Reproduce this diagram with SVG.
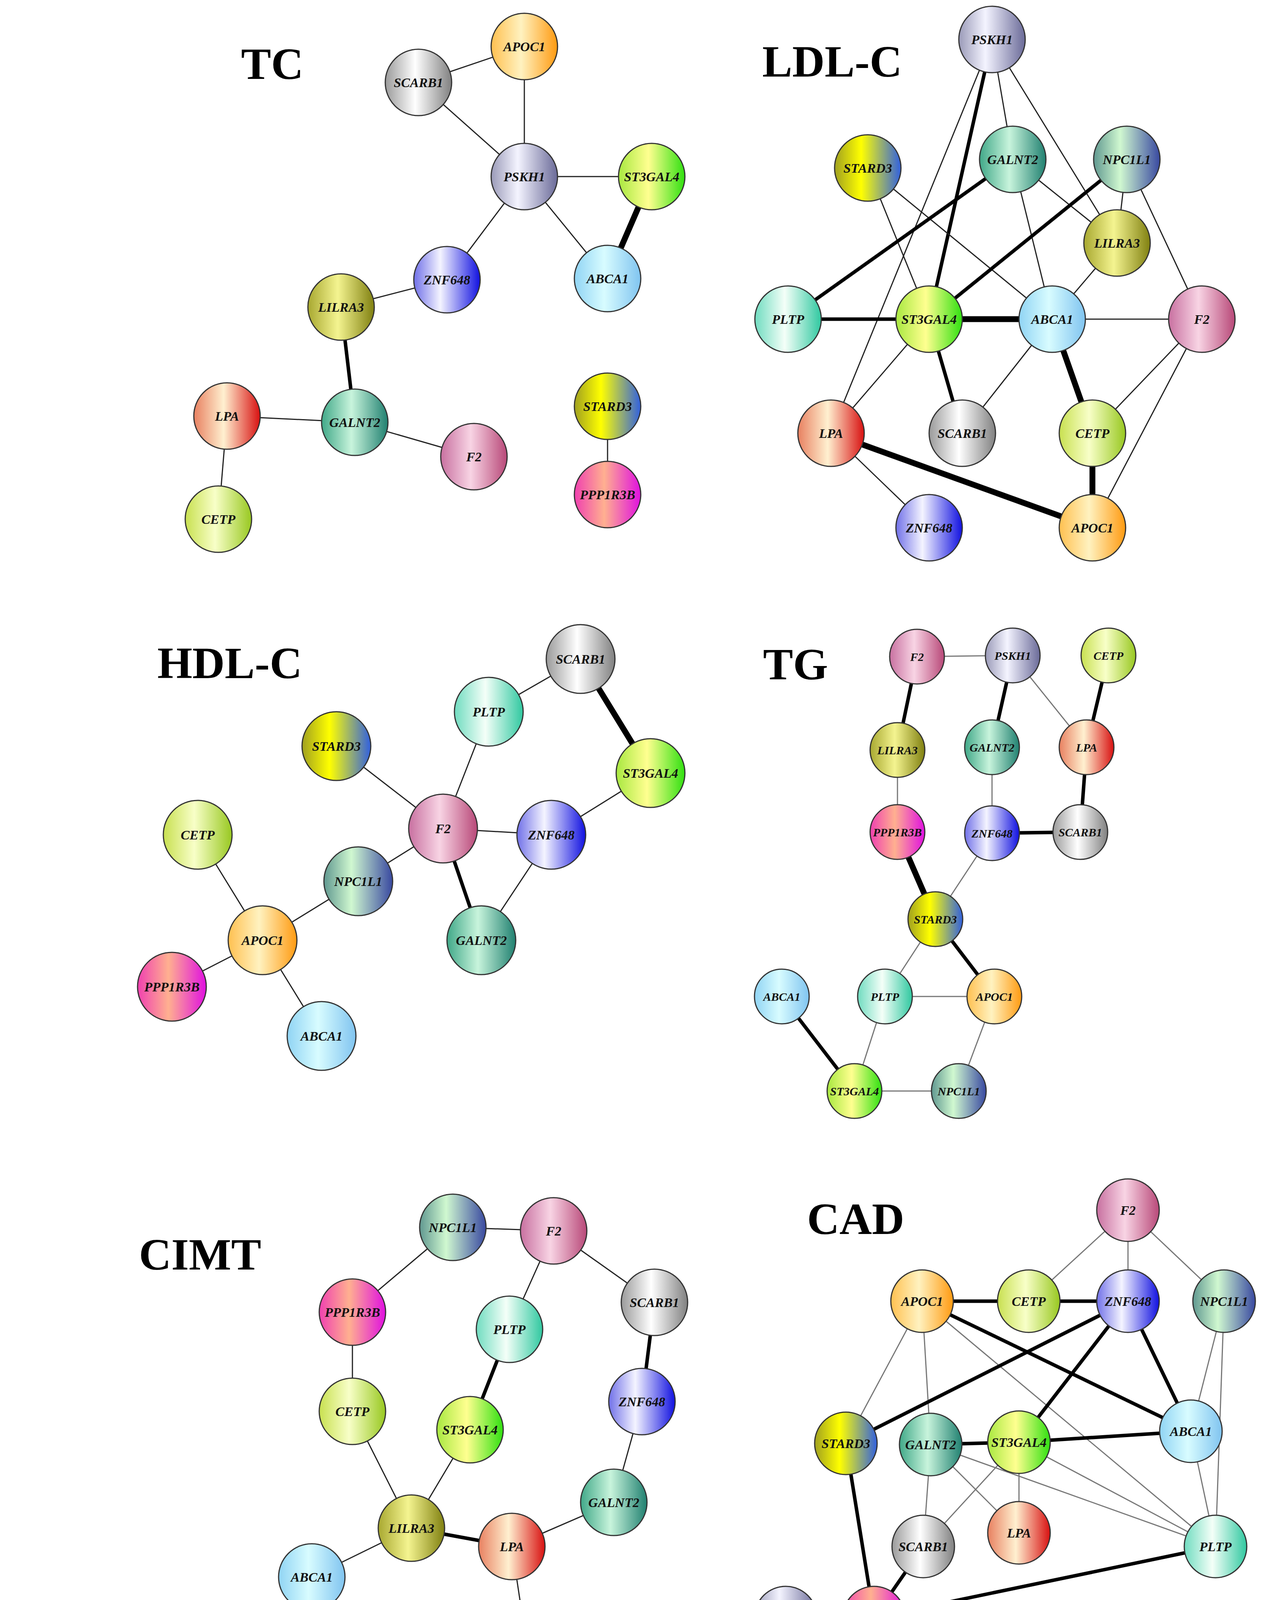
<svg xmlns="http://www.w3.org/2000/svg" width="3230" height="4936" viewBox="0 0 3230 4936">
<style>
.t{stroke:#222;stroke-width:3}
.m{stroke:#000;stroke-width:9}
.k{stroke:#000;stroke-width:15}
.g .t{stroke:#777}
.n circle{stroke:#333;stroke-width:3}
.n text{font-family:"Liberation Serif",serif;font-weight:bold;font-style:italic;font-size:34px;text-anchor:middle;dominant-baseline:central;fill:#111}
.s text{font-size:30px}
.title{font-family:"Liberation Serif",serif;font-weight:bold;font-size:115px;text-anchor:middle;dominant-baseline:central}
.leg{font-family:"Liberation Serif",serif;font-size:80px}
</style>
<defs>
<linearGradient id="APOC1"><stop offset="0" stop-color="#ffc050"/><stop offset="0.45" stop-color="#fff2c0"/><stop offset="1" stop-color="#ff9a10"/></linearGradient>
<linearGradient id="SCARB1"><stop offset="0" stop-color="#9a9a9a"/><stop offset="0.45" stop-color="#ffffff"/><stop offset="1" stop-color="#808080"/></linearGradient>
<linearGradient id="PSKH1"><stop offset="0" stop-color="#9a9ab8"/><stop offset="0.4" stop-color="#f4f4ff"/><stop offset="1" stop-color="#6a6a98"/></linearGradient>
<linearGradient id="ST3GAL4"><stop offset="0" stop-color="#a8e840"/><stop offset="0.45" stop-color="#ffff90"/><stop offset="1" stop-color="#30e010"/></linearGradient>
<linearGradient id="ABCA1"><stop offset="0" stop-color="#90d4f4"/><stop offset="0.45" stop-color="#d8fcff"/><stop offset="1" stop-color="#80c4f0"/></linearGradient>
<linearGradient id="ZNF648"><stop offset="0" stop-color="#7070e8"/><stop offset="0.4" stop-color="#f4f4ff"/><stop offset="1" stop-color="#1010e0"/></linearGradient>
<linearGradient id="LILRA3"><stop offset="0" stop-color="#a8a830"/><stop offset="0.45" stop-color="#f4f490"/><stop offset="1" stop-color="#808010"/></linearGradient>
<linearGradient id="GALNT2"><stop offset="0" stop-color="#40a888"/><stop offset="0.45" stop-color="#c8f4dc"/><stop offset="1" stop-color="#208070"/></linearGradient>
<linearGradient id="LPA"><stop offset="0" stop-color="#e88060"/><stop offset="0.45" stop-color="#fff0d0"/><stop offset="1" stop-color="#d81010"/></linearGradient>
<linearGradient id="F2"><stop offset="0" stop-color="#c870a0"/><stop offset="0.45" stop-color="#f8d4e4"/><stop offset="1" stop-color="#b84878"/></linearGradient>
<linearGradient id="CETP"><stop offset="0" stop-color="#c8e050"/><stop offset="0.45" stop-color="#f8ffc8"/><stop offset="1" stop-color="#98c820"/></linearGradient>
<linearGradient id="STARD3"><stop offset="0" stop-color="#a0a020"/><stop offset="0.4" stop-color="#ffff00"/><stop offset="1" stop-color="#3060e0"/></linearGradient>
<linearGradient id="PPP1R3B"><stop offset="0" stop-color="#f040b0"/><stop offset="0.45" stop-color="#ffb090"/><stop offset="1" stop-color="#e010e0"/></linearGradient>
<linearGradient id="NPC1L1"><stop offset="0" stop-color="#609890"/><stop offset="0.4" stop-color="#d0f8d0"/><stop offset="1" stop-color="#3848a0"/></linearGradient>
<linearGradient id="PLTP"><stop offset="0" stop-color="#70dcc0"/><stop offset="0.45" stop-color="#f4fff8"/><stop offset="1" stop-color="#30c8a0"/></linearGradient>
</defs>
<rect width="3230" height="4936" fill="#fff"/>
<g id="connectors">
<g id="tc-edges">
<line class="t" x1="1071" y1="211" x2="1342" y2="119"/>
<line class="t" x1="1071" y1="211" x2="1342" y2="452"/>
<line class="t" x1="1342" y1="119" x2="1342" y2="452"/>
<line class="t" x1="1342" y1="452" x2="1668" y2="452"/>
<line class="t" x1="1342" y1="452" x2="1555" y2="713"/>
<line class="k" x1="1668" y1="452" x2="1555" y2="713"/>
<line class="t" x1="1342" y1="452" x2="1144" y2="716"/>
<line class="t" x1="1144" y1="716" x2="873" y2="786"/>
<line class="m" x1="873" y1="786" x2="908" y2="1081"/>
<line class="t" x1="581" y1="1065" x2="908" y2="1081"/>
<line class="t" x1="908" y1="1081" x2="1213" y2="1169"/>
<line class="t" x1="581" y1="1065" x2="559" y2="1329"/>
<line class="t" x1="1555" y1="1040" x2="1555" y2="1266"/>
</g>
<g id="ldl-edges">
<line class="m" x1="2539" y1="101" x2="2378" y2="817"/>
<line class="t" x1="2539" y1="101" x2="2127" y2="1109"/>
<line class="t" x1="2539" y1="101" x2="2592" y2="408"/>
<line class="t" x1="2539" y1="101" x2="2859" y2="622"/>
<line class="t" x1="2221" y1="430" x2="2378" y2="817"/>
<line class="t" x1="2221" y1="430" x2="2693" y2="817"/>
<line class="m" x1="2592" y1="408" x2="2017" y2="817"/>
<line class="t" x1="2592" y1="408" x2="2693" y2="817"/>
<line class="t" x1="2592" y1="408" x2="2859" y2="622"/>
<line class="m" x1="2884" y1="408" x2="2378" y2="817"/>
<line class="t" x1="2884" y1="408" x2="2859" y2="622"/>
<line class="t" x1="2884" y1="408" x2="3076" y2="817"/>
<line class="t" x1="2859" y1="622" x2="2693" y2="817"/>
<line class="m" x1="2017" y1="817" x2="2378" y2="817"/>
<line class="k" x1="2378" y1="817" x2="2693" y2="817"/>
<line class="t" x1="2693" y1="817" x2="3076" y2="817"/>
<line class="t" x1="2378" y1="817" x2="2127" y2="1109"/>
<line class="m" x1="2378" y1="817" x2="2463" y2="1109"/>
<line class="t" x1="2693" y1="817" x2="2463" y2="1109"/>
<line class="k" x1="2693" y1="817" x2="2796" y2="1109"/>
<line class="t" x1="3076" y1="817" x2="2796" y2="1109"/>
<line class="t" x1="3076" y1="817" x2="2796" y2="1351"/>
<line class="k" x1="2796" y1="1109" x2="2796" y2="1351"/>
<line class="k" x1="2127" y1="1109" x2="2796" y2="1351"/>
<line class="t" x1="2127" y1="1109" x2="2378" y2="1351"/>
</g>
<g id="hdl-edges">
<line class="t" x1="1486" y1="1687" x2="1251" y2="1822"/>
<line class="k" x1="1486" y1="1687" x2="1665" y2="1979"/>
<line class="t" x1="1251" y1="1822" x2="1134" y2="2121"/>
<line class="t" x1="861" y1="1910" x2="1134" y2="2121"/>
<line class="t" x1="1665" y1="1979" x2="1411" y2="2137"/>
<line class="t" x1="1134" y1="2121" x2="1411" y2="2137"/>
<line class="t" x1="1134" y1="2121" x2="917" y2="2256"/>
<line class="m" x1="1134" y1="2121" x2="1232" y2="2407"/>
<line class="t" x1="1411" y1="2137" x2="1232" y2="2407"/>
<line class="t" x1="506" y1="2137" x2="672" y2="2407"/>
<line class="t" x1="917" y1="2256" x2="672" y2="2407"/>
<line class="t" x1="672" y1="2407" x2="440" y2="2526"/>
<line class="t" x1="672" y1="2407" x2="823" y2="2652"/>
</g>
<g id="tg-edges" class="g">
<line class="t" x1="2347" y1="1681" x2="2592" y2="1678"/>
<line class="m" x1="2347" y1="1681" x2="2297" y2="1920"/>
<line class="m" x1="2592" y1="1678" x2="2539" y2="1913"/>
<line class="t" x1="2592" y1="1678" x2="2781" y2="1913"/>
<line class="m" x1="2837" y1="1678" x2="2781" y2="1913"/>
<line class="t" x1="2297" y1="1920" x2="2297" y2="2130"/>
<line class="t" x1="2539" y1="1913" x2="2539" y2="2133"/>
<line class="m" x1="2781" y1="1913" x2="2765" y2="2130"/>
<line class="m" x1="2539" y1="2133" x2="2765" y2="2130"/>
<line class="k" x1="2297" y1="2130" x2="2394" y2="2353"/>
<line class="t" x1="2539" y1="2133" x2="2394" y2="2353"/>
<line class="t" x1="2394" y1="2353" x2="2265" y2="2551"/>
<line class="m" x1="2394" y1="2353" x2="2545" y2="2551"/>
<line class="t" x1="2265" y1="2551" x2="2545" y2="2551"/>
<line class="m" x1="2001" y1="2551" x2="2187" y2="2793"/>
<line class="t" x1="2265" y1="2551" x2="2187" y2="2793"/>
<line class="t" x1="2545" y1="2551" x2="2454" y2="2793"/>
<line class="t" x1="2187" y1="2793" x2="2454" y2="2793"/>
</g>
<g id="cimt-edges">
<line class="t" x1="1159" y1="3142" x2="1417" y2="3151"/>
<line class="t" x1="1159" y1="3142" x2="902" y2="3359"/>
<line class="t" x1="1417" y1="3151" x2="1304" y2="3403"/>
<line class="t" x1="1417" y1="3151" x2="1675" y2="3334"/>
<line class="m" x1="1675" y1="3334" x2="1643" y2="3588"/>
<line class="m" x1="1304" y1="3403" x2="1203" y2="3660"/>
<line class="t" x1="902" y1="3359" x2="902" y2="3613"/>
<line class="t" x1="902" y1="3613" x2="1053" y2="3912"/>
<line class="t" x1="1203" y1="3660" x2="1053" y2="3912"/>
<line class="t" x1="1643" y1="3588" x2="1571" y2="3846"/>
<line class="t" x1="1571" y1="3846" x2="1310" y2="3959"/>
<line class="m" x1="1053" y1="3912" x2="1310" y2="3959"/>
<line class="t" x1="1053" y1="3912" x2="798" y2="4037"/>
<line class="t" x1="1310" y1="3959" x2="1348" y2="4210"/>
</g>
<g id="cad-edges" class="g">
<line class="t" x1="2887" y1="3098" x2="2633" y2="3331"/>
<line class="t" x1="2887" y1="3098" x2="2887" y2="3331"/>
<line class="t" x1="2887" y1="3098" x2="3133" y2="3331"/>
<line class="m" x1="2360" y1="3331" x2="2633" y2="3331"/>
<line class="m" x1="2633" y1="3331" x2="2887" y2="3331"/>
<line class="m" x1="2360" y1="3331" x2="3048" y2="3664"/>
<line class="t" x1="2360" y1="3331" x2="2165" y2="3695"/>
<line class="t" x1="2360" y1="3331" x2="2382" y2="3698"/>
<line class="t" x1="2360" y1="3331" x2="3111" y2="3959"/>
<line class="m" x1="2887" y1="3331" x2="2165" y2="3695"/>
<line class="m" x1="2887" y1="3331" x2="2608" y2="3692"/>
<line class="m" x1="2887" y1="3331" x2="3048" y2="3664"/>
<line class="t" x1="3133" y1="3331" x2="3048" y2="3664"/>
<line class="t" x1="3133" y1="3331" x2="3111" y2="3959"/>
<line class="m" x1="2382" y1="3698" x2="2608" y2="3692"/>
<line class="m" x1="2608" y1="3692" x2="3048" y2="3664"/>
<line class="t" x1="2382" y1="3698" x2="2363" y2="3959"/>
<line class="t" x1="2382" y1="3698" x2="2608" y2="3924"/>
<line class="t" x1="2382" y1="3698" x2="3111" y2="3959"/>
<line class="t" x1="2608" y1="3692" x2="2363" y2="3959"/>
<line class="t" x1="2608" y1="3692" x2="2608" y2="3924"/>
<line class="t" x1="2608" y1="3692" x2="3111" y2="3959"/>
<line class="t" x1="3048" y1="3664" x2="3111" y2="3959"/>
<line class="m" x1="2165" y1="3695" x2="2237" y2="4141"/>
<line class="m" x1="2363" y1="3959" x2="2237" y2="4141"/>
<line class="m" x1="2237" y1="4141" x2="3111" y2="3959"/>
<line class="t" x1="2011" y1="4141" x2="2237" y2="4141"/>
</g>
</g>
<text class="title" x="697" y="163">TC</text>
<text class="title" x="2130" y="157">LDL-C</text>
<text class="title" x="588" y="1697">HDL-C</text>
<text class="title" x="2036" y="1700">TG</text>
<text class="title" x="512" y="3211">CIMT</text>
<text class="title" x="2190" y="3120">CAD</text>
<g id="tc-SCARB1" class="n"><circle cx="1071" cy="211" r="85" fill="url(#SCARB1)"/><text x="1071" y="211">SCARB1</text></g>
<g id="tc-APOC1" class="n"><circle cx="1342" cy="119" r="85" fill="url(#APOC1)"/><text x="1342" y="119">APOC1</text></g>
<g id="tc-PSKH1" class="n"><circle cx="1342" cy="452" r="85" fill="url(#PSKH1)"/><text x="1342" y="452">PSKH1</text></g>
<g id="tc-ST3GAL4" class="n"><circle cx="1668" cy="452" r="85" fill="url(#ST3GAL4)"/><text x="1668" y="452">ST3GAL4</text></g>
<g id="tc-ABCA1" class="n"><circle cx="1555" cy="713" r="85" fill="url(#ABCA1)"/><text x="1555" y="713">ABCA1</text></g>
<g id="tc-ZNF648" class="n"><circle cx="1144" cy="716" r="85" fill="url(#ZNF648)"/><text x="1144" y="716">ZNF648</text></g>
<g id="tc-LILRA3" class="n"><circle cx="873" cy="786" r="85" fill="url(#LILRA3)"/><text x="873" y="786">LILRA3</text></g>
<g id="tc-GALNT2" class="n"><circle cx="908" cy="1081" r="85" fill="url(#GALNT2)"/><text x="908" y="1081">GALNT2</text></g>
<g id="tc-LPA" class="n"><circle cx="581" cy="1065" r="85" fill="url(#LPA)"/><text x="581" y="1065">LPA</text></g>
<g id="tc-F2" class="n"><circle cx="1213" cy="1169" r="85" fill="url(#F2)"/><text x="1213" y="1169">F2</text></g>
<g id="tc-CETP" class="n"><circle cx="559" cy="1329" r="85" fill="url(#CETP)"/><text x="559" y="1329">CETP</text></g>
<g id="tc-STARD3" class="n"><circle cx="1555" cy="1040" r="85" fill="url(#STARD3)"/><text x="1555" y="1040">STARD3</text></g>
<g id="tc-PPP1R3B" class="n"><circle cx="1555" cy="1266" r="85" fill="url(#PPP1R3B)"/><text x="1555" y="1266">PPP1R3B</text></g>
<g id="ldl-PSKH1" class="n"><circle cx="2539" cy="101" r="85" fill="url(#PSKH1)"/><text x="2539" y="101">PSKH1</text></g>
<g id="ldl-STARD3" class="n"><circle cx="2221" cy="430" r="85" fill="url(#STARD3)"/><text x="2221" y="430">STARD3</text></g>
<g id="ldl-GALNT2" class="n"><circle cx="2592" cy="408" r="85" fill="url(#GALNT2)"/><text x="2592" y="408">GALNT2</text></g>
<g id="ldl-NPC1L1" class="n"><circle cx="2884" cy="408" r="85" fill="url(#NPC1L1)"/><text x="2884" y="408">NPC1L1</text></g>
<g id="ldl-LILRA3" class="n"><circle cx="2859" cy="622" r="85" fill="url(#LILRA3)"/><text x="2859" y="622">LILRA3</text></g>
<g id="ldl-PLTP" class="n"><circle cx="2017" cy="817" r="85" fill="url(#PLTP)"/><text x="2017" y="817">PLTP</text></g>
<g id="ldl-ST3GAL4" class="n"><circle cx="2378" cy="817" r="85" fill="url(#ST3GAL4)"/><text x="2378" y="817">ST3GAL4</text></g>
<g id="ldl-ABCA1" class="n"><circle cx="2693" cy="817" r="85" fill="url(#ABCA1)"/><text x="2693" y="817">ABCA1</text></g>
<g id="ldl-F2" class="n"><circle cx="3076" cy="817" r="85" fill="url(#F2)"/><text x="3076" y="817">F2</text></g>
<g id="ldl-LPA" class="n"><circle cx="2127" cy="1109" r="85" fill="url(#LPA)"/><text x="2127" y="1109">LPA</text></g>
<g id="ldl-SCARB1" class="n"><circle cx="2463" cy="1109" r="85" fill="url(#SCARB1)"/><text x="2463" y="1109">SCARB1</text></g>
<g id="ldl-CETP" class="n"><circle cx="2796" cy="1109" r="85" fill="url(#CETP)"/><text x="2796" y="1109">CETP</text></g>
<g id="ldl-ZNF648" class="n"><circle cx="2378" cy="1351" r="85" fill="url(#ZNF648)"/><text x="2378" y="1351">ZNF648</text></g>
<g id="ldl-APOC1" class="n"><circle cx="2796" cy="1351" r="85" fill="url(#APOC1)"/><text x="2796" y="1351">APOC1</text></g>
<g id="hdl-SCARB1" class="n"><circle cx="1486" cy="1687" r="88" fill="url(#SCARB1)"/><text x="1486" y="1687">SCARB1</text></g>
<g id="hdl-PLTP" class="n"><circle cx="1251" cy="1822" r="88" fill="url(#PLTP)"/><text x="1251" y="1822">PLTP</text></g>
<g id="hdl-STARD3" class="n"><circle cx="861" cy="1910" r="88" fill="url(#STARD3)"/><text x="861" y="1910">STARD3</text></g>
<g id="hdl-ST3GAL4" class="n"><circle cx="1665" cy="1979" r="88" fill="url(#ST3GAL4)"/><text x="1665" y="1979">ST3GAL4</text></g>
<g id="hdl-F2" class="n"><circle cx="1134" cy="2121" r="88" fill="url(#F2)"/><text x="1134" y="2121">F2</text></g>
<g id="hdl-ZNF648" class="n"><circle cx="1411" cy="2137" r="88" fill="url(#ZNF648)"/><text x="1411" y="2137">ZNF648</text></g>
<g id="hdl-CETP" class="n"><circle cx="506" cy="2137" r="88" fill="url(#CETP)"/><text x="506" y="2137">CETP</text></g>
<g id="hdl-NPC1L1" class="n"><circle cx="917" cy="2256" r="88" fill="url(#NPC1L1)"/><text x="917" y="2256">NPC1L1</text></g>
<g id="hdl-GALNT2" class="n"><circle cx="1232" cy="2407" r="88" fill="url(#GALNT2)"/><text x="1232" y="2407">GALNT2</text></g>
<g id="hdl-APOC1" class="n"><circle cx="672" cy="2407" r="88" fill="url(#APOC1)"/><text x="672" y="2407">APOC1</text></g>
<g id="hdl-PPP1R3B" class="n"><circle cx="440" cy="2526" r="88" fill="url(#PPP1R3B)"/><text x="440" y="2526">PPP1R3B</text></g>
<g id="hdl-ABCA1" class="n"><circle cx="823" cy="2652" r="88" fill="url(#ABCA1)"/><text x="823" y="2652">ABCA1</text></g>
<g id="tg-F2" class="n s"><circle cx="2347" cy="1681" r="70" fill="url(#F2)"/><text x="2347" y="1681">F2</text></g>
<g id="tg-PSKH1" class="n s"><circle cx="2592" cy="1678" r="70" fill="url(#PSKH1)"/><text x="2592" y="1678">PSKH1</text></g>
<g id="tg-CETP" class="n s"><circle cx="2837" cy="1678" r="70" fill="url(#CETP)"/><text x="2837" y="1678">CETP</text></g>
<g id="tg-LILRA3" class="n s"><circle cx="2297" cy="1920" r="70" fill="url(#LILRA3)"/><text x="2297" y="1920">LILRA3</text></g>
<g id="tg-GALNT2" class="n s"><circle cx="2539" cy="1913" r="70" fill="url(#GALNT2)"/><text x="2539" y="1913">GALNT2</text></g>
<g id="tg-LPA" class="n s"><circle cx="2781" cy="1913" r="70" fill="url(#LPA)"/><text x="2781" y="1913">LPA</text></g>
<g id="tg-PPP1R3B" class="n s"><circle cx="2297" cy="2130" r="70" fill="url(#PPP1R3B)"/><text x="2297" y="2130">PPP1R3B</text></g>
<g id="tg-ZNF648" class="n s"><circle cx="2539" cy="2133" r="70" fill="url(#ZNF648)"/><text x="2539" y="2133">ZNF648</text></g>
<g id="tg-SCARB1" class="n s"><circle cx="2765" cy="2130" r="70" fill="url(#SCARB1)"/><text x="2765" y="2130">SCARB1</text></g>
<g id="tg-STARD3" class="n s"><circle cx="2394" cy="2353" r="70" fill="url(#STARD3)"/><text x="2394" y="2353">STARD3</text></g>
<g id="tg-ABCA1" class="n s"><circle cx="2001" cy="2551" r="70" fill="url(#ABCA1)"/><text x="2001" y="2551">ABCA1</text></g>
<g id="tg-PLTP" class="n s"><circle cx="2265" cy="2551" r="70" fill="url(#PLTP)"/><text x="2265" y="2551">PLTP</text></g>
<g id="tg-APOC1" class="n s"><circle cx="2545" cy="2551" r="70" fill="url(#APOC1)"/><text x="2545" y="2551">APOC1</text></g>
<g id="tg-ST3GAL4" class="n s"><circle cx="2187" cy="2793" r="70" fill="url(#ST3GAL4)"/><text x="2187" y="2793">ST3GAL4</text></g>
<g id="tg-NPC1L1" class="n s"><circle cx="2454" cy="2793" r="70" fill="url(#NPC1L1)"/><text x="2454" y="2793">NPC1L1</text></g>
<g id="cimt-NPC1L1" class="n"><circle cx="1159" cy="3142" r="85" fill="url(#NPC1L1)"/><text x="1159" y="3142">NPC1L1</text></g>
<g id="cimt-F2" class="n"><circle cx="1417" cy="3151" r="85" fill="url(#F2)"/><text x="1417" y="3151">F2</text></g>
<g id="cimt-PPP1R3B" class="n"><circle cx="902" cy="3359" r="85" fill="url(#PPP1R3B)"/><text x="902" y="3359">PPP1R3B</text></g>
<g id="cimt-SCARB1" class="n"><circle cx="1675" cy="3334" r="85" fill="url(#SCARB1)"/><text x="1675" y="3334">SCARB1</text></g>
<g id="cimt-PLTP" class="n"><circle cx="1304" cy="3403" r="85" fill="url(#PLTP)"/><text x="1304" y="3403">PLTP</text></g>
<g id="cimt-ZNF648" class="n"><circle cx="1643" cy="3588" r="85" fill="url(#ZNF648)"/><text x="1643" y="3588">ZNF648</text></g>
<g id="cimt-CETP" class="n"><circle cx="902" cy="3613" r="85" fill="url(#CETP)"/><text x="902" y="3613">CETP</text></g>
<g id="cimt-ST3GAL4" class="n"><circle cx="1203" cy="3660" r="85" fill="url(#ST3GAL4)"/><text x="1203" y="3660">ST3GAL4</text></g>
<g id="cimt-GALNT2" class="n"><circle cx="1571" cy="3846" r="85" fill="url(#GALNT2)"/><text x="1571" y="3846">GALNT2</text></g>
<g id="cimt-LILRA3" class="n"><circle cx="1053" cy="3912" r="85" fill="url(#LILRA3)"/><text x="1053" y="3912">LILRA3</text></g>
<g id="cimt-LPA" class="n"><circle cx="1310" cy="3959" r="85" fill="url(#LPA)"/><text x="1310" y="3959">LPA</text></g>
<g id="cimt-ABCA1" class="n"><circle cx="798" cy="4037" r="85" fill="url(#ABCA1)"/><text x="798" y="4037">ABCA1</text></g>
<g id="cimt-APOC1" class="n"><circle cx="1348" cy="4210" r="85" fill="url(#APOC1)"/><text x="1348" y="4210">APOC1</text></g>
<g id="cad-F2" class="n"><circle cx="2887" cy="3098" r="80" fill="url(#F2)"/><text x="2887" y="3098">F2</text></g>
<g id="cad-APOC1" class="n"><circle cx="2360" cy="3331" r="80" fill="url(#APOC1)"/><text x="2360" y="3331">APOC1</text></g>
<g id="cad-CETP" class="n"><circle cx="2633" cy="3331" r="80" fill="url(#CETP)"/><text x="2633" y="3331">CETP</text></g>
<g id="cad-ZNF648" class="n"><circle cx="2887" cy="3331" r="80" fill="url(#ZNF648)"/><text x="2887" y="3331">ZNF648</text></g>
<g id="cad-NPC1L1" class="n"><circle cx="3133" cy="3331" r="80" fill="url(#NPC1L1)"/><text x="3133" y="3331">NPC1L1</text></g>
<g id="cad-STARD3" class="n"><circle cx="2165" cy="3695" r="80" fill="url(#STARD3)"/><text x="2165" y="3695">STARD3</text></g>
<g id="cad-GALNT2" class="n"><circle cx="2382" cy="3698" r="80" fill="url(#GALNT2)"/><text x="2382" y="3698">GALNT2</text></g>
<g id="cad-ST3GAL4" class="n"><circle cx="2608" cy="3692" r="80" fill="url(#ST3GAL4)"/><text x="2608" y="3692">ST3GAL4</text></g>
<g id="cad-ABCA1" class="n"><circle cx="3048" cy="3664" r="80" fill="url(#ABCA1)"/><text x="3048" y="3664">ABCA1</text></g>
<g id="cad-LPA" class="n"><circle cx="2608" cy="3924" r="80" fill="url(#LPA)"/><text x="2608" y="3924">LPA</text></g>
<g id="cad-SCARB1" class="n"><circle cx="2363" cy="3959" r="80" fill="url(#SCARB1)"/><text x="2363" y="3959">SCARB1</text></g>
<g id="cad-PLTP" class="n"><circle cx="3111" cy="3959" r="80" fill="url(#PLTP)"/><text x="3111" y="3959">PLTP</text></g>
<g id="cad-PSKH1" class="n"><circle cx="2011" cy="4141" r="80" fill="url(#PSKH1)"/><text x="2011" y="4141">PSKH1</text></g>
<g id="cad-PPP1R3B" class="n"><circle cx="2237" cy="4141" r="80" fill="url(#PPP1R3B)"/><text x="2237" y="4141">PPP1R3B</text></g>
<g id="legend">
<text class="leg" x="534" y="4503">Line thickness depicts <tspan font-style="italic">P</tspan>-levels of gene-gene interactions:</text>
<line x1="22" y1="4597" x2="383" y2="4597" stroke="#000" stroke-width="4"/>
<line x1="22" y1="4720" x2="383" y2="4720" stroke="#000" stroke-width="10"/>
<line x1="22" y1="4839" x2="383" y2="4839" stroke="#000" stroke-width="17"/>
<text class="leg" x="534" y="4638"><tspan font-style="italic">P</tspan>≤0.05-0.01</text>
<text class="leg" x="534" y="4766"><tspan font-style="italic">P</tspan>≤0.009-0.001</text>
<text class="leg" x="534" y="4902"><tspan font-style="italic">P</tspan>≤0.0009-0.0001</text>
</g>
</svg>
